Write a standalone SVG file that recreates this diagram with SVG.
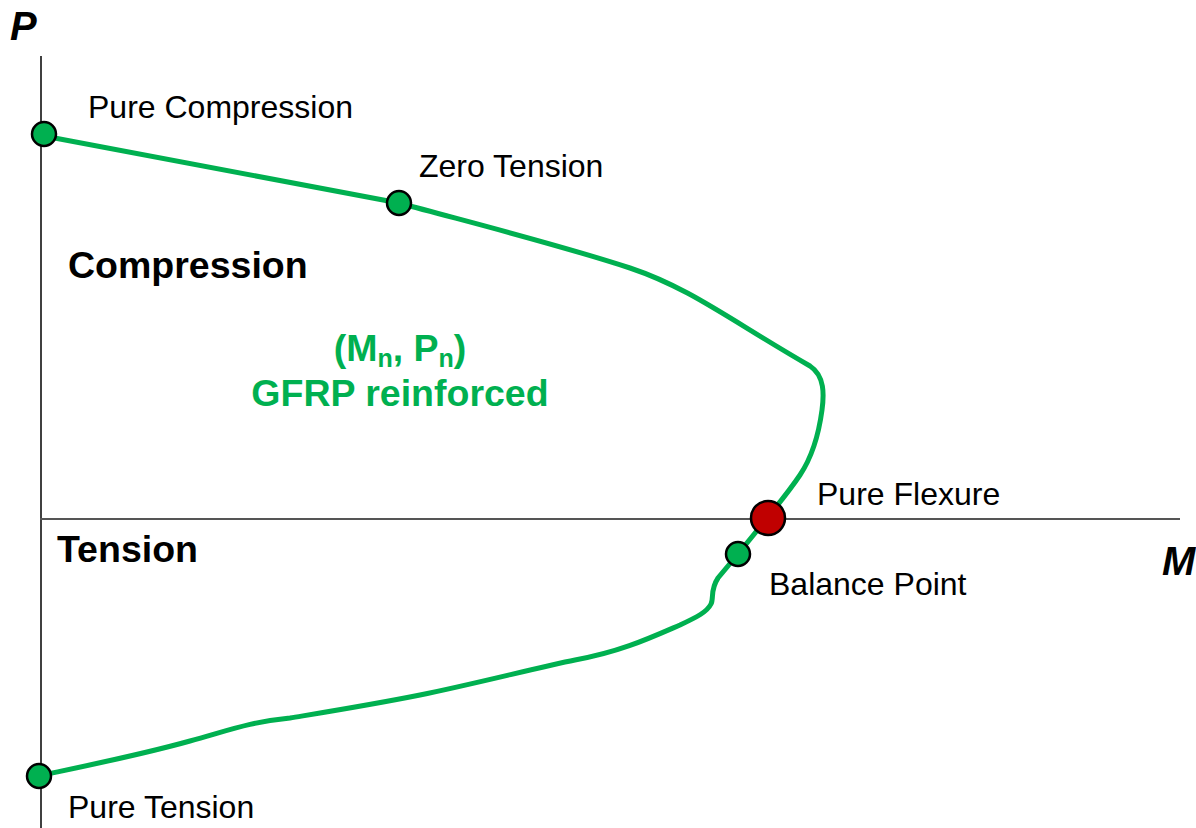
<svg xmlns="http://www.w3.org/2000/svg" width="1196" height="828" viewBox="0 0 1196 828">
<style>
.lbl{font-family:"Liberation Sans",Arial,sans-serif;font-size:32px;fill:#000}
.bld{font-family:"Liberation Sans",Arial,sans-serif;font-size:37.5px;font-weight:bold;fill:#000}
.grn{font-family:"Liberation Sans",Arial,sans-serif;font-size:37.5px;font-weight:bold;fill:#00B050}
.ax{font-family:"Liberation Sans",Arial,sans-serif;font-size:40px;font-weight:bold;font-style:italic;fill:#000}
.dot{fill:#00B050;stroke:#000;stroke-width:2.5}
</style>
<rect width="1196" height="828" fill="#fff"/>
<g id="axes">
<line x1="41" y1="56" x2="41" y2="828" stroke="#000" stroke-width="1.5"/>
<line x1="40" y1="519" x2="1180" y2="519" stroke="#555" stroke-width="2"/>
<text class="ax" x="10" y="40">P</text>
<text class="ax" x="1162" y="575">M</text>
</g>
<g id="connectors">
<path d="M44,136 L399,203 C480,225 560,245 630,268 C690,288 730,320 810,366 C825,376 824,395 822,410 C818,440 810,460 800,475 C790,490 780,502 768,517 L738,554 L718,578 C710,590 714,598 711,604 C707,612 697,617 680,625 C650,638 620,652 575,660 C540,667 470,685 420,695 C370,705 320,713 290,718 C250,722 230,730 190,741 C140,755 90,765 38,776" fill="none" stroke="#00B050" stroke-width="5"/>
</g>
<g id="region-labels">
<text class="bld" x="68" y="278">Compression</text>
<text class="bld" x="57" y="562">Tension</text>
<text class="grn" x="400" y="361" text-anchor="middle">(M<tspan font-size="25" dy="6">n</tspan><tspan dy="-6">, P</tspan><tspan font-size="25" dy="6">n</tspan><tspan dy="-6">)</tspan></text>
<text class="grn" x="400" y="406" text-anchor="middle">GFRP reinforced</text>
</g>
<g id="pure-compression">
<circle class="dot" cx="44" cy="134" r="12"/>
<text class="lbl" x="88" y="118">Pure Compression</text>
</g>
<g id="zero-tension">
<circle class="dot" cx="399" cy="203" r="12"/>
<text class="lbl" x="419" y="177">Zero Tension</text>
</g>
<g id="pure-flexure">
<circle cx="768" cy="518" r="17" fill="#C00000" stroke="#000" stroke-width="2.5"/>
<text class="lbl" x="817" y="505">Pure Flexure</text>
</g>
<g id="balance-point">
<circle class="dot" cx="738" cy="554" r="12"/>
<text class="lbl" x="769" y="595">Balance Point</text>
</g>
<g id="pure-tension">
<circle class="dot" cx="39" cy="776" r="12"/>
<text class="lbl" x="68" y="818">Pure Tension</text>
</g>
</svg>
